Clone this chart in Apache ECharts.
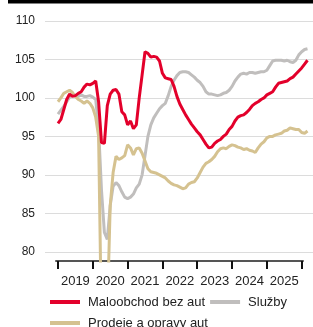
<!DOCTYPE html>
<html><head><meta charset="utf-8">
<script src="https://cdn.jsdelivr.net/npm/echarts@6/dist/echarts.min.js"></script>
<style>html,body{margin:0;padding:0;background:#fff}#c{width:313px;height:327px}</style>
</head><body><div id="c"></div>
<script>
// Monthly data, Jan 2019 .. Mar 2026
const startYear = 2019;
const seriesNames = ['Maloobchod bez aut', 'Služby', 'Prodeje a opravy aut'];
const maloobchod = [96.7,97.2,98.5,99.8,100.5,100.2,100.3,100.6,100.8,101.4,101.8,101.7,101.9,102.2,99.5,94.2,94.1,99.0,100.5,101.0,101.1,100.5,98.2,97.8,96.5,97.0,96.0,96.5,100.0,103.0,106.0,105.8,105.3,105.4,105.3,104.8,103.2,102.6,102.5,102.4,101.5,100.2,99.2,98.5,97.8,97.2,96.6,96.1,95.6,95.2,94.6,94.0,93.5,93.6,94.1,94.4,94.6,95.0,95.3,95.9,96.3,97.0,97.5,97.7,97.8,98.1,98.5,99.0,99.3,99.5,99.8,100.0,100.4,100.6,100.8,101.4,101.9,102.0,102.1,102.2,102.5,102.7,103.1,103.5,103.9,104.4,104.9];
const sluzby = [97.9,98.4,98.9,99.5,100.1,100.4,100.3,100.2,100.4,100.2,100.2,100.3,100.1,99.8,96.0,88.0,82.5,81.6,86.0,88.5,89.0,88.6,87.8,87.1,86.9,87.1,87.5,88.3,88.8,90.0,92.5,95.0,96.5,97.4,98.0,98.6,99.0,99.3,100.3,101.5,102.3,102.9,103.3,103.4,103.4,103.3,103.0,102.7,102.3,102.0,101.5,100.8,100.5,100.5,100.4,100.3,100.4,100.6,100.7,101.0,101.5,102.2,102.7,103.1,103.2,103.1,103.3,103.3,103.2,103.3,103.4,103.4,103.6,104.2,104.8,104.9,104.9,104.9,104.8,104.9,104.7,104.6,104.9,105.6,106.0,106.3,106.4];
const prodeje = [99.5,100.0,100.6,100.8,101.0,100.7,100.2,99.8,99.6,99.3,99.6,99.3,98.7,97.5,95.0,70.0,60.0,72.0,86.0,90.3,92.4,92.0,92.2,92.5,93.9,93.5,92.6,93.4,93.5,92.8,91.8,90.8,90.4,90.3,90.2,90.0,89.8,89.6,89.2,88.9,88.7,88.6,88.4,88.2,88.3,88.8,89.0,89.1,89.6,90.3,91.0,91.5,91.7,92.0,92.4,93.0,93.4,93.5,93.4,93.7,93.9,93.8,93.6,93.5,93.3,93.4,93.2,93.1,92.9,93.5,94.0,94.3,94.8,95.0,95.0,95.2,95.3,95.4,95.7,95.8,96.1,96.0,95.9,95.9,95.5,95.4,95.7];
const yearTicks = [2019,2020,2021,2022,2023,2024,2025,2026];
const yearLabels = [2019,2020,2021,2022,2023,2024,2025];

const toPairs = arr => arr.map((v, i) => [startYear + i / 12, v]);
const colors = ['#e3002b', '#c0bebd', '#d5c290'];

const chart = echarts.init(document.getElementById('c'), null, {renderer: 'canvas'});
chart.setOption({
  animation: false,
  textStyle: {fontFamily: 'Liberation Sans, Arial, sans-serif'},
  graphic: [{type: 'rect', left: 8, top: 0, shape: {width: 305, height: 3.5}, style: {fill: '#000'}}],
  grid: [
    {left: 45, right: 0, top: 21, bottom: 66},
    {left: 56, right: 10, top: 21, bottom: 66}
  ],
  xAxis: [
    {type: 'value', gridIndex: 0, min: 2018.627, max: 2026.325,
     axisLine: {show: false}, splitLine: {show: false},
     axisTick: {show: true, customValues: yearTicks, length: 8, lineStyle: {color: '#111', width: 2}},
     axisLabel: {customValues: yearLabels.map(y => y + 0.5), formatter: v => String(Math.floor(v)),
                 fontSize: 13, color: '#222', margin: 14}},
    {type: 'value', gridIndex: 1, min: 0, max: 1,
     axisLine: {show: true, lineStyle: {color: '#555', width: 2}},
     axisTick: {show: false}, axisLabel: {show: false}, splitLine: {show: false}}
  ],
  yAxis: [
    {type: 'value', gridIndex: 0, min: 78.8, max: 110,
     axisLine: {show: false}, axisTick: {show: false},
     axisLabel: {showMinLabel: false, fontSize: 12, color: '#222', margin: 10},
     splitLine: {show: true, showMinLine: false, lineStyle: {color: '#dcdcdc', width: 1}}},
    {type: 'value', gridIndex: 1, min: 0, max: 1, show: false}
  ],
  legend: {
    left: 50, top: 294, width: 260, padding: 0, itemGap: 5,
    itemWidth: 30, itemHeight: 4, icon: 'rect',
    textStyle: {fontSize: 13, color: '#222', lineHeight: 16, padding: [0, 0, 0, 3]},
    data: seriesNames
  },
  series: [
    {name: seriesNames[1], type: 'line', xAxisIndex: 0, yAxisIndex: 0, data: toPairs(sluzby),
     showSymbol: false, color: colors[1], lineStyle: {width: 3}, z: 2},
    {name: seriesNames[2], type: 'line', xAxisIndex: 0, yAxisIndex: 0, data: toPairs(prodeje),
     showSymbol: false, color: colors[2], lineStyle: {width: 3}, z: 3},
    {name: seriesNames[0], type: 'line', xAxisIndex: 0, yAxisIndex: 0, data: toPairs(maloobchod),
     showSymbol: false, color: colors[0], lineStyle: {width: 3}, z: 4}
  ]
});
</script></body></html>
